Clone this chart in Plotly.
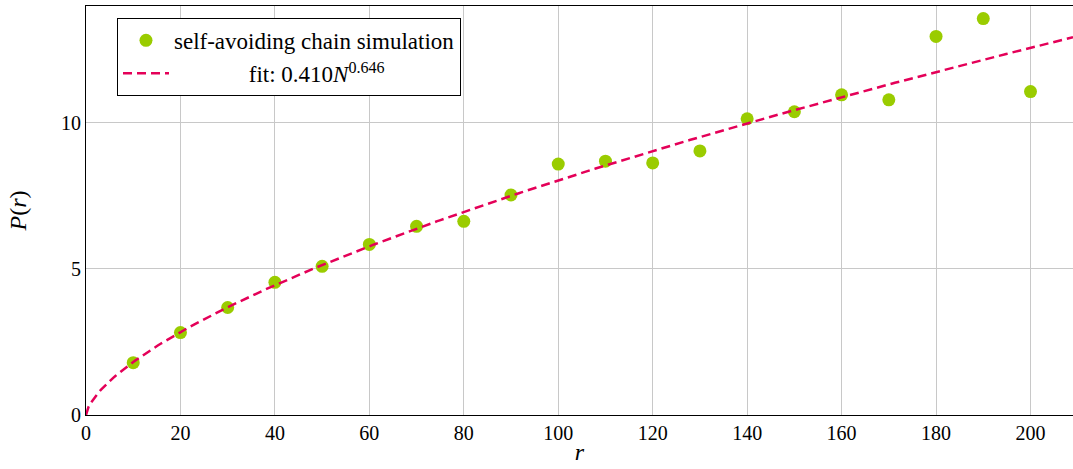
import numpy as np
import plotly.graph_objects as go

# Simulation data
r_values = [10, 20, 30, 40, 50, 60, 70, 80, 90, 100,
            110, 120, 130, 140, 150, 160, 170, 180, 190, 200]
p_values = [1.79, 2.82, 3.68, 4.54, 5.09, 5.84, 6.46, 6.63, 7.53, 8.59,
            8.69, 8.63, 9.04, 10.14, 10.38, 10.96, 10.79, 12.96, 13.57, 11.07]

# Fit parameters (from the legend)
fit_a = 0.410
fit_b = 0.646

x_ticks = [0, 20, 40, 60, 80, 100, 120, 140, 160, 180, 200]
y_ticks = [0, 5, 10]

fit_x = np.linspace(0, 209, 400)
fit_y = fit_a * fit_x ** fit_b

FONT = "Liberation Serif"
GREEN = "rgb(154,204,0)"
RED = "rgb(228,0,88)"

fig = go.Figure()
fig.add_trace(go.Scatter(
    x=r_values, y=p_values, mode="markers",
    marker=dict(color=GREEN, size=13),
    name="self-avoiding chain simulation",
))
fig.add_trace(go.Scatter(
    x=fit_x, y=fit_y, mode="lines",
    line=dict(color=RED, width=2.5, dash="9px,5px"),
    name="&nbsp;&nbsp;&nbsp;&nbsp;&nbsp;&nbsp;&nbsp;&nbsp;&nbsp;&nbsp;&nbsp;&nbsp;&nbsp;fit: 0.410<i>N</i><sup>0.646</sup>",
))

fig.update_layout(
    width=1073, height=469,
    margin=dict(l=86, r=0, t=6, b=54),
    plot_bgcolor="white", paper_bgcolor="white",
    font=dict(family=FONT, size=20, color="black"),
    legend=dict(
        x=0.0314, y=0.971, xanchor="left", yanchor="top",
        bordercolor="black", borderwidth=1, bgcolor="white",
        font=dict(size=23, family=FONT),
        itemwidth=46, tracegroupgap=0,
    ),
    xaxis=dict(
        range=[0, 209], tickvals=x_ticks, showgrid=True,
        gridcolor="rgb(200,200,200)", gridwidth=1,
        showline=True, linecolor="black", linewidth=1, mirror=True,
        ticks="", zeroline=False, automargin=False,
        title=dict(text="<i>r</i>", standoff=0),
    ),
    yaxis=dict(
        range=[0, 14], tickvals=y_ticks, showgrid=True,
        gridcolor="rgb(200,200,200)", gridwidth=1,
        showline=True, linecolor="black", linewidth=1,
        ticks="", zeroline=False, automargin=False,
        title=dict(text="<i>P</i>(<i>r</i>)", standoff=27),
    ),
)

fig.write_html(
    "out.html",
    config={"displayModeBar": False},
    post_script="document.body.style.margin='0';document.body.style.overflow='hidden';",
)
